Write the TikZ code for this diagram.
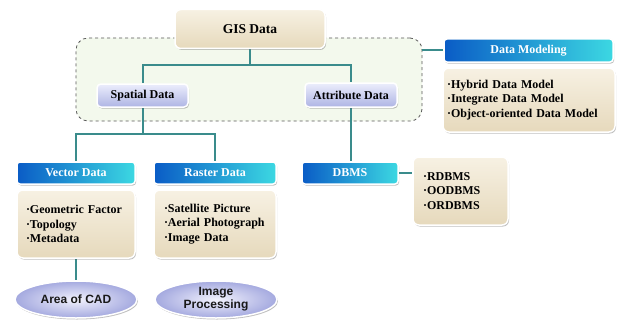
\documentclass[tikz,border=0pt]{standalone}
\usepackage{fontspec}
\setmainfont{Liberation Serif}
\newfontfamily\ellfont{Liberation Sans}
\usetikzlibrary{shapes.geometric,shadows}
\definecolor{linkc}{HTML}{3A8C8C}
\definecolor{grpfill}{HTML}{F3F9ED}
\definecolor{beigeT}{HTML}{F7F1E3}
\definecolor{beigeB}{HTML}{E6D9BC}
\definecolor{blueL}{HTML}{0A5CC6}
\definecolor{blueR}{HTML}{3CD8E2}
\definecolor{lavT}{HTML}{ECEEFC}
\definecolor{lavB}{HTML}{AEB4E4}
\definecolor{ellIn}{HTML}{F2F2FD}
\definecolor{ellOut}{HTML}{A4A9DF}
\pgfdeclarelayer{bottom}
\pgfdeclarelayer{background}
\pgfsetlayers{bottom,background,main}
\begin{document}
\begin{tikzpicture}[x=1pt,y=-1pt,
  link/.style={draw=linkc, line width=2pt},
  shad/.style={drop shadow={shadow xshift=1pt,shadow yshift=-1.5pt,opacity=0.35,fill=black!70}},
  grp/.style={draw=black!65, dashed, line width=0.8pt, fill=grpfill, rounded corners=12pt, inner sep=0pt},
  beige/.style={shad, draw=white, line width=1.5pt, rounded corners=6pt, top color=beigeT, bottom color=beigeB, inner sep=0pt, align=left, font=\bfseries\fontsize{12}{14.5}\selectfont},
  bluehead/.style={shad, draw=white, line width=1.5pt, rounded corners=3pt, left color=blueL, right color=blueR, text=white, inner sep=0pt, font=\bfseries\fontsize{12}{14}\selectfont},
  lav/.style={shad, draw=white, line width=1.5pt, rounded corners=4pt, top color=lavT, bottom color=lavB, inner sep=0pt, font=\bfseries\fontsize{12}{14}\selectfont},
  ell/.style={shad, ellipse, draw=white, line width=1.5pt, inner color=ellIn, outer color=ellOut, inner sep=0pt, align=center, text=black!90, font=\ellfont\bfseries\fontsize{12}{13}\selectfont}
]
\begin{pgfonlayer}{bottom}
  \fill[white] (0,0) rectangle (620,321);
  \node[grp, minimum width=346pt, minimum height=83pt] (grp) at (249,79.5) {};
\end{pgfonlayer}
\useasboundingbox (0,0) rectangle (620,321);

% top
\node[beige, minimum width=150pt, minimum height=39pt, align=center, font=\bfseries\fontsize{13.5}{16}\selectfont] (gis) at (250,29) {GIS Data};
\node[lav, minimum width=91pt, minimum height=23pt] (spatial) at (142.5,95.5) {Spatial Data};
\node[lav, minimum width=92pt, minimum height=24pt] (attr) at (351,95) {Attribute Data};

% data modeling
\node[bluehead, minimum width=169pt, minimum height=23pt] (dmh) at (528.5,50.5) {Data Modeling};
\node[beige, minimum height=64pt, text width=164pt, inner xsep=4pt] (dmb) at (529,100) {·Hybrid Data Model\\·Integrate Data Model\\·Object-oriented Data Model};

% vector / raster
\node[bluehead, minimum width=118pt, minimum height=22pt] (vhead) at (76,173) {Vector Data};
\node[beige, minimum height=68pt, text width=100pt, inner xsep=9pt] (vbody) at (76,224) {·Geometric Factor\\·Topology\\·Metadata};
\node[bluehead, minimum width=122pt, minimum height=22pt] (rhead) at (215,173) {Raster Data};
\node[beige, minimum height=68pt, text width=102pt, inner xsep=10pt] (rbody) at (215,224) {·Satellite Picture\\·Aerial Photograph\\·Image Data};

\node[ell, minimum width=122pt, minimum height=37pt] (cad) at (76,299.5) {Area of CAD};
\node[ell, minimum width=122pt, minimum height=37pt] (imgp) at (216,299.5) {Image\\Processing};

% dbms
\node[bluehead, minimum width=96pt, minimum height=22pt] (dbms) at (350,173) {DBMS};
\node[beige, minimum height=68pt, text width=75pt, inner xsep=10pt] (dbl) at (460.5,191) {·RDBMS\\·OODBMS\\·ORDBMS};

\begin{pgfonlayer}{background}
  \coordinate (j1) at (250,65);
  \coordinate (j2) at (142.5,134);
  \draw[link] (gis.south) -- (j1);
  \draw[link] (j1) -| (spatial.north);
  \draw[link] (j1) -| (attr.north);
  \draw[link] (spatial.south) -- (j2);
  \draw[link] (j2) -| (vhead.north);
  \draw[link] (j2) -| (rhead.north);
  \draw[link] (attr.south) -- (attr.south |- dbms.north);
  \draw[link] (dbms.east) -- (dbms.east -| dbl.west);
  \draw[link] (grp.east |- dmh.west) -- (dmh.west);
  \draw[link] (vbody.south) -- (cad.north);
\end{pgfonlayer}
\end{tikzpicture}
\end{document}
